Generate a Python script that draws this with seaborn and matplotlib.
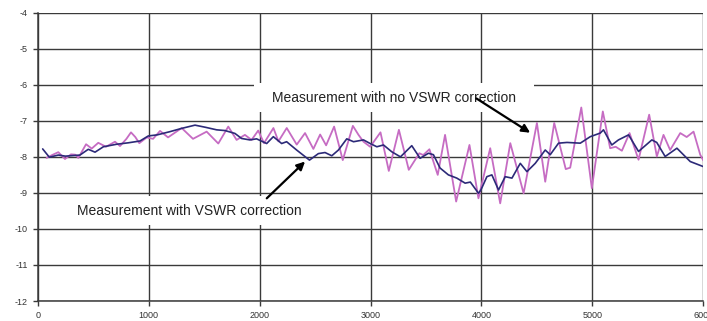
import matplotlib
matplotlib.use("Agg")
import matplotlib.pyplot as plt
from matplotlib import font_manager
import seaborn as sns
import pandas as pd

# Frequency points and level for the measurement without VSWR correction
freq_raw = [80, 130, 186, 246, 300, 340, 366, 436, 487, 546, 616, 697, 742, 800,
            841, 880, 916, 983, 1040, 1103, 1175, 1298, 1400, 1523, 1628, 1718,
            1793, 1868, 1928, 1988, 2040, 2125, 2170, 2245, 2335, 2410, 2485,
            2546, 2600, 2672, 2750, 2841, 2892, 2937, 2997, 3090, 3165, 3256,
            3345, 3440, 3475, 3531, 3606, 3672, 3772, 3892, 3973, 4079, 4169,
            4260, 4380, 4500, 4575, 4656, 4760, 4800, 4900, 4995, 5094, 5160,
            5210, 5266, 5335, 5416, 5512, 5581, 5641, 5701, 5792, 5850, 5912,
            5972, 6000]
level_raw = [-8.03, -7.95, -7.87, -8.06, -7.93, -7.94, -8.03, -7.65, -7.77, -7.61,
             -7.72, -7.58, -7.70, -7.50, -7.32, -7.45, -7.62, -7.46, -7.50, -7.28,
             -7.46, -7.20, -7.50, -7.30, -7.63, -7.16, -7.53, -7.39, -7.53, -7.27,
             -7.62, -7.20, -7.57, -7.20, -7.66, -7.34, -7.78, -7.38, -7.68, -7.16,
             -8.09, -7.14, -7.39, -7.58, -7.72, -7.32, -8.39, -7.25, -8.36, -7.90,
             -7.95, -7.79, -8.50, -7.39, -9.24, -7.67, -9.15, -7.76, -9.29, -7.62,
             -9.01, -7.06, -8.69, -7.06, -8.34, -8.30, -6.63, -8.87, -6.74, -7.76,
             -7.72, -7.83, -7.34, -8.08, -6.83, -7.99, -7.39, -7.81, -7.34, -7.45,
             -7.30, -7.94, -8.10]

# Frequency points and level for the measurement with VSWR correction
freq_corr = [45, 105, 186, 250, 381, 456, 517, 592, 712, 817, 922, 997, 1077,
             1193, 1298, 1418, 1513, 1613, 1688, 1778, 1838, 1913, 1973, 2064,
             2124, 2199, 2244, 2334, 2450, 2530, 2590, 2651, 2711, 2786, 2847,
             2937, 2997, 3057, 3117, 3192, 3270, 3372, 3447, 3522, 3567, 3627,
             3702, 3778, 3853, 3900, 3973, 3995, 4049, 4094, 4154, 4214, 4275,
             4350, 4410, 4485, 4575, 4620, 4695, 4771, 4891, 4981, 5071, 5100,
             5175, 5235, 5326, 5416, 5536, 5580, 5656, 5762, 5882, 6000]
level_corr = [-7.78, -8.01, -7.95, -7.98, -7.95, -7.79, -7.87, -7.72, -7.65, -7.61,
              -7.56, -7.42, -7.39, -7.30, -7.21, -7.12, -7.18, -7.25, -7.27, -7.35,
              -7.49, -7.53, -7.50, -7.63, -7.44, -7.63, -7.58, -7.81, -8.09, -7.91,
              -7.88, -7.97, -7.81, -7.50, -7.58, -7.53, -7.63, -7.72, -7.67, -7.86,
              -8.00, -7.69, -8.04, -7.90, -7.94, -8.31, -8.50, -8.59, -8.73, -8.70,
              -9.01, -8.92, -8.55, -8.50, -8.92, -8.55, -8.59, -8.18, -8.41, -8.18,
              -7.81, -7.94, -7.62, -7.60, -7.62, -7.44, -7.34, -7.25, -7.67, -7.53,
              -7.39, -7.85, -7.53, -7.60, -7.99, -7.76, -8.13, -8.27]

x_ticks = [0, 1000, 2000, 3000, 4000, 5000, 6000]
y_ticks = [-12, -11, -10, -9, -8, -7, -6, -5, -4]

label_raw = "Measurement with no VSWR correction"
label_corr = "Measurement with VSWR correction"

sns.set_theme(style="white")
plt.rcParams["font.family"] = ["Liberation Sans", "DejaVu Sans"]

# narrow face for the small tick numbers, if it is installed
installed = {f.name for f in font_manager.fontManager.ttflist}
tick_family = ["Liberation Sans Narrow", "Liberation Sans"] \
    if "Liberation Sans Narrow" in installed else ["Liberation Sans"]

fig = plt.figure(figsize=(7.07, 3.21), dpi=100)
ax = fig.add_axes([0.0533, 0.0623, 0.9415, 0.8981])

df_raw = pd.DataFrame({"freq": freq_raw, "level": level_raw})
df_corr = pd.DataFrame({"freq": freq_corr, "level": level_corr})

sns.lineplot(data=df_raw, x="freq", y="level", ax=ax, color="#c66cc3",
             linewidth=1.3, zorder=3)
sns.lineplot(data=df_corr, x="freq", y="level", ax=ax, color="#2c2a78",
             linewidth=1.2, zorder=4)

ax.set_xlim(0, 6000)
ax.set_ylim(-12, -4)
ax.set_xticks(x_ticks)
ax.set_yticks(y_ticks)
ax.set_xticklabels([str(t) for t in x_ticks], family=tick_family)
ax.set_yticklabels([str(t) for t in y_ticks], family=tick_family)
ax.set_xlabel("")
ax.set_ylabel("")

ax.grid(True, color="#3a3a3a", linewidth=1.0)
ax.set_axisbelow(True)
for side in ["top", "right"]:
    ax.spines[side].set_visible(False)
for side in ["left", "bottom"]:
    ax.spines[side].set_color("#3a3a3a")
    ax.spines[side].set_linewidth(1.1)
ax.tick_params(axis="both", which="major", length=3.5, width=1.0,
               color="#3a3a3a", labelsize=6.5, labelcolor="#333333",
               direction="out", left=True, bottom=True, pad=3.5)

box = dict(boxstyle="square,pad=1.3", mutation_aspect=0.42,
           facecolor="white", edgecolor="none")
ax.text(3213, -6.36, label_raw, fontsize=10, color="#222222", ha="center",
        va="center", bbox=box, zorder=5)
ax.text(1365, -9.50, label_corr, fontsize=10, color="#222222", ha="center",
        va="center", bbox=box, zorder=5)

arrow = dict(arrowstyle="-|>", color="black", lw=1.6, mutation_scale=12,
             shrinkA=0, shrinkB=0)
ax.annotate("", xy=(4439, -7.33), xytext=(3955, -6.38), arrowprops=arrow,
            zorder=6)
ax.annotate("", xy=(2410, -8.13), xytext=(2065, -9.15), arrowprops=arrow,
            zorder=6)

fig.savefig("out.png", dpi=100)
